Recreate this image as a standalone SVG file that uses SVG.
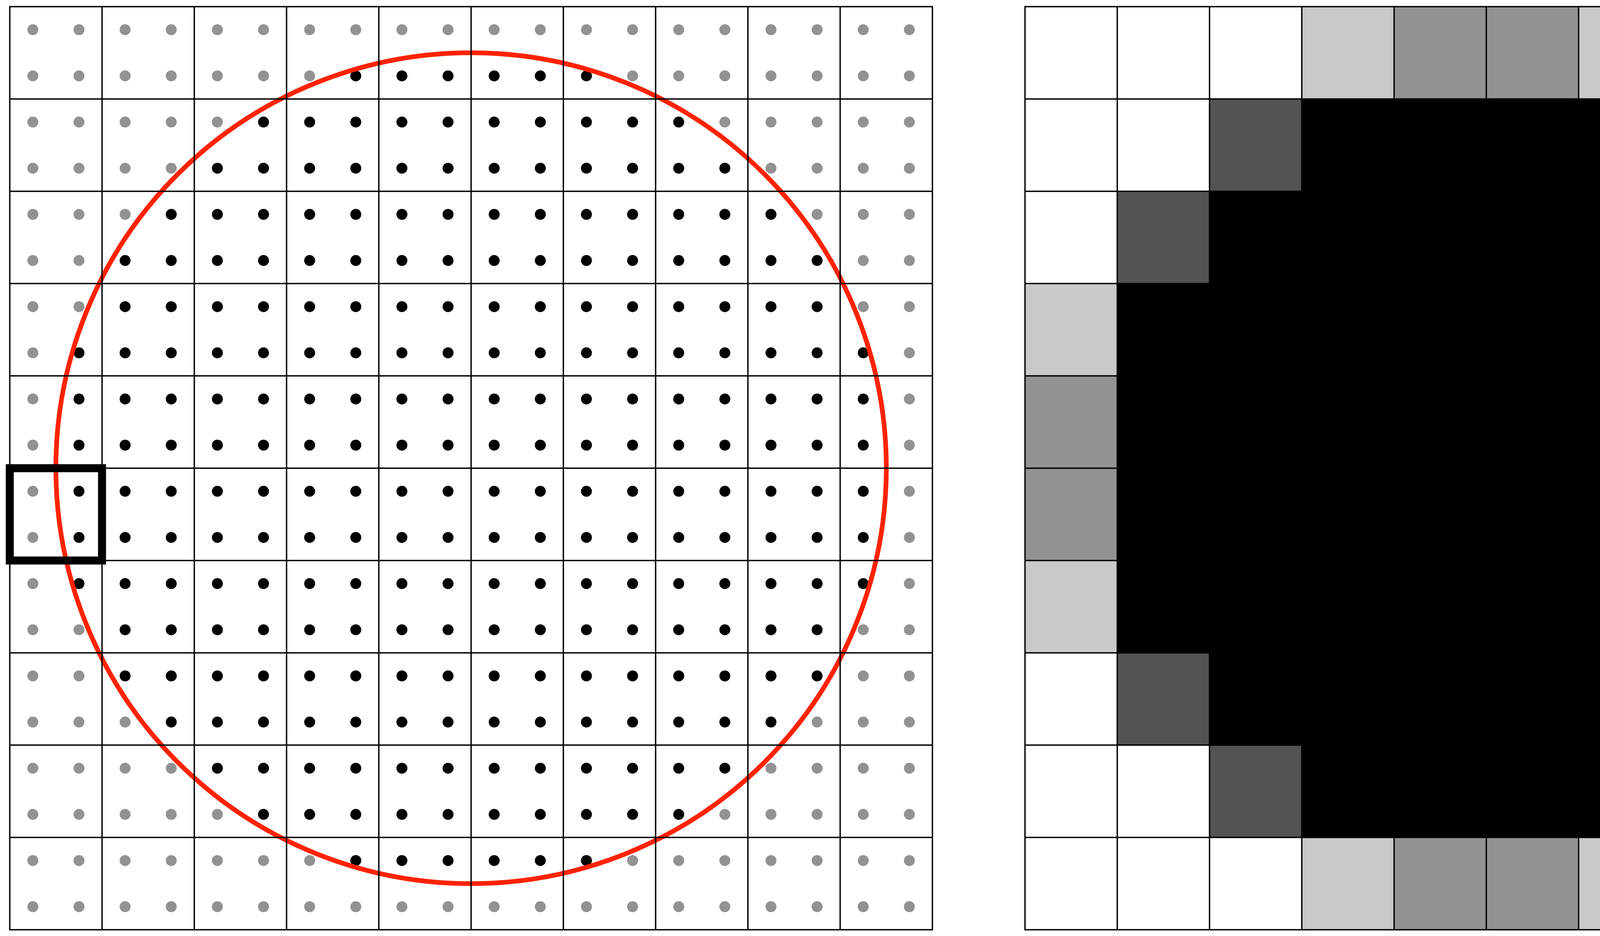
<svg xmlns="http://www.w3.org/2000/svg" width="5003" height="2395" viewBox="0 0 5003 2395">
<style>
.g{fill:#929292}
.b{fill:#000}
.grid{fill:none;stroke:#000;stroke-width:3.5}
.lt{fill:#c9c9c9}
.md{fill:#929292}
.dk{fill:#535353}
.bk{fill:#000}
</style>
<rect x="0" y="0" width="5003" height="2395" fill="#fff"/>
<g id="samples">
<g id="row-0" transform="translate(0,76)">
<circle class="g" cx="84.1" r="14"/><circle class="g" cx="202.2" r="14"/><circle class="g" cx="320.3" r="14"/><circle class="g" cx="438.4" r="14"/><circle class="g" cx="556.5" r="14"/><circle class="g" cx="674.6" r="14"/><circle class="g" cx="792.7" r="14"/><circle class="g" cx="910.8" r="14"/><circle class="g" cx="1028.9" r="14"/><circle class="g" cx="1147" r="14"/><circle class="g" cx="1265.1" r="14"/><circle class="g" cx="1383.2" r="14"/><circle class="g" cx="1501.3" r="14"/><circle class="g" cx="1619.4" r="14"/><circle class="g" cx="1737.5" r="14"/><circle class="g" cx="1855.6" r="14"/><circle class="g" cx="1973.7" r="14"/><circle class="g" cx="2091.8" r="14"/><circle class="g" cx="2209.9" r="14"/><circle class="g" cx="2328" r="14"/>
</g>
<g id="row-1" transform="translate(0,194.2)">
<circle class="g" cx="84.1" r="14"/><circle class="g" cx="202.2" r="14"/><circle class="g" cx="320.3" r="14"/><circle class="g" cx="438.4" r="14"/><circle class="g" cx="556.5" r="14"/><circle class="g" cx="674.6" r="14"/><circle class="g" cx="792.7" r="14"/><circle class="b" cx="910.8" r="14"/><circle class="b" cx="1028.9" r="14"/><circle class="b" cx="1147" r="14"/><circle class="b" cx="1265.1" r="14"/><circle class="b" cx="1383.2" r="14"/><circle class="b" cx="1501.3" r="14"/><circle class="g" cx="1619.4" r="14"/><circle class="g" cx="1737.5" r="14"/><circle class="g" cx="1855.6" r="14"/><circle class="g" cx="1973.7" r="14"/><circle class="g" cx="2091.8" r="14"/><circle class="g" cx="2209.9" r="14"/><circle class="g" cx="2328" r="14"/>
</g>
<g id="row-2" transform="translate(0,312.3)">
<circle class="g" cx="84.1" r="14"/><circle class="g" cx="202.2" r="14"/><circle class="g" cx="320.3" r="14"/><circle class="g" cx="438.4" r="14"/><circle class="g" cx="556.5" r="14"/><circle class="b" cx="674.6" r="14"/><circle class="b" cx="792.7" r="14"/><circle class="b" cx="910.8" r="14"/><circle class="b" cx="1028.9" r="14"/><circle class="b" cx="1147" r="14"/><circle class="b" cx="1265.1" r="14"/><circle class="b" cx="1383.2" r="14"/><circle class="b" cx="1501.3" r="14"/><circle class="b" cx="1619.4" r="14"/><circle class="b" cx="1737.5" r="14"/><circle class="g" cx="1855.6" r="14"/><circle class="g" cx="1973.7" r="14"/><circle class="g" cx="2091.8" r="14"/><circle class="g" cx="2209.9" r="14"/><circle class="g" cx="2328" r="14"/>
</g>
<g id="row-3" transform="translate(0,430.4)">
<circle class="g" cx="84.1" r="14"/><circle class="g" cx="202.2" r="14"/><circle class="g" cx="320.3" r="14"/><circle class="g" cx="438.4" r="14"/><circle class="b" cx="556.5" r="14"/><circle class="b" cx="674.6" r="14"/><circle class="b" cx="792.7" r="14"/><circle class="b" cx="910.8" r="14"/><circle class="b" cx="1028.9" r="14"/><circle class="b" cx="1147" r="14"/><circle class="b" cx="1265.1" r="14"/><circle class="b" cx="1383.2" r="14"/><circle class="b" cx="1501.3" r="14"/><circle class="b" cx="1619.4" r="14"/><circle class="b" cx="1737.5" r="14"/><circle class="b" cx="1855.6" r="14"/><circle class="g" cx="1973.7" r="14"/><circle class="g" cx="2091.8" r="14"/><circle class="g" cx="2209.9" r="14"/><circle class="g" cx="2328" r="14"/>
</g>
<g id="row-4" transform="translate(0,548.5)">
<circle class="g" cx="84.1" r="14"/><circle class="g" cx="202.2" r="14"/><circle class="g" cx="320.3" r="14"/><circle class="b" cx="438.4" r="14"/><circle class="b" cx="556.5" r="14"/><circle class="b" cx="674.6" r="14"/><circle class="b" cx="792.7" r="14"/><circle class="b" cx="910.8" r="14"/><circle class="b" cx="1028.9" r="14"/><circle class="b" cx="1147" r="14"/><circle class="b" cx="1265.1" r="14"/><circle class="b" cx="1383.2" r="14"/><circle class="b" cx="1501.3" r="14"/><circle class="b" cx="1619.4" r="14"/><circle class="b" cx="1737.5" r="14"/><circle class="b" cx="1855.6" r="14"/><circle class="b" cx="1973.7" r="14"/><circle class="g" cx="2091.8" r="14"/><circle class="g" cx="2209.9" r="14"/><circle class="g" cx="2328" r="14"/>
</g>
<g id="row-5" transform="translate(0,666.6)">
<circle class="g" cx="84.1" r="14"/><circle class="g" cx="202.2" r="14"/><circle class="b" cx="320.3" r="14"/><circle class="b" cx="438.4" r="14"/><circle class="b" cx="556.5" r="14"/><circle class="b" cx="674.6" r="14"/><circle class="b" cx="792.7" r="14"/><circle class="b" cx="910.8" r="14"/><circle class="b" cx="1028.9" r="14"/><circle class="b" cx="1147" r="14"/><circle class="b" cx="1265.1" r="14"/><circle class="b" cx="1383.2" r="14"/><circle class="b" cx="1501.3" r="14"/><circle class="b" cx="1619.4" r="14"/><circle class="b" cx="1737.5" r="14"/><circle class="b" cx="1855.6" r="14"/><circle class="b" cx="1973.7" r="14"/><circle class="b" cx="2091.8" r="14"/><circle class="g" cx="2209.9" r="14"/><circle class="g" cx="2328" r="14"/>
</g>
<g id="row-6" transform="translate(0,784.7)">
<circle class="g" cx="84.1" r="14"/><circle class="g" cx="202.2" r="14"/><circle class="b" cx="320.3" r="14"/><circle class="b" cx="438.4" r="14"/><circle class="b" cx="556.5" r="14"/><circle class="b" cx="674.6" r="14"/><circle class="b" cx="792.7" r="14"/><circle class="b" cx="910.8" r="14"/><circle class="b" cx="1028.9" r="14"/><circle class="b" cx="1147" r="14"/><circle class="b" cx="1265.1" r="14"/><circle class="b" cx="1383.2" r="14"/><circle class="b" cx="1501.3" r="14"/><circle class="b" cx="1619.4" r="14"/><circle class="b" cx="1737.5" r="14"/><circle class="b" cx="1855.6" r="14"/><circle class="b" cx="1973.7" r="14"/><circle class="b" cx="2091.8" r="14"/><circle class="g" cx="2209.9" r="14"/><circle class="g" cx="2328" r="14"/>
</g>
<g id="row-7" transform="translate(0,902.8)">
<circle class="g" cx="84.1" r="14"/><circle class="b" cx="202.2" r="14"/><circle class="b" cx="320.3" r="14"/><circle class="b" cx="438.4" r="14"/><circle class="b" cx="556.5" r="14"/><circle class="b" cx="674.6" r="14"/><circle class="b" cx="792.7" r="14"/><circle class="b" cx="910.8" r="14"/><circle class="b" cx="1028.9" r="14"/><circle class="b" cx="1147" r="14"/><circle class="b" cx="1265.1" r="14"/><circle class="b" cx="1383.2" r="14"/><circle class="b" cx="1501.3" r="14"/><circle class="b" cx="1619.4" r="14"/><circle class="b" cx="1737.5" r="14"/><circle class="b" cx="1855.6" r="14"/><circle class="b" cx="1973.7" r="14"/><circle class="b" cx="2091.8" r="14"/><circle class="b" cx="2209.9" r="14"/><circle class="g" cx="2328" r="14"/>
</g>
<g id="row-8" transform="translate(0,1020.9)">
<circle class="g" cx="84.1" r="14"/><circle class="b" cx="202.2" r="14"/><circle class="b" cx="320.3" r="14"/><circle class="b" cx="438.4" r="14"/><circle class="b" cx="556.5" r="14"/><circle class="b" cx="674.6" r="14"/><circle class="b" cx="792.7" r="14"/><circle class="b" cx="910.8" r="14"/><circle class="b" cx="1028.9" r="14"/><circle class="b" cx="1147" r="14"/><circle class="b" cx="1265.1" r="14"/><circle class="b" cx="1383.2" r="14"/><circle class="b" cx="1501.3" r="14"/><circle class="b" cx="1619.4" r="14"/><circle class="b" cx="1737.5" r="14"/><circle class="b" cx="1855.6" r="14"/><circle class="b" cx="1973.7" r="14"/><circle class="b" cx="2091.8" r="14"/><circle class="b" cx="2209.9" r="14"/><circle class="g" cx="2328" r="14"/>
</g>
<g id="row-9" transform="translate(0,1139)">
<circle class="g" cx="84.1" r="14"/><circle class="b" cx="202.2" r="14"/><circle class="b" cx="320.3" r="14"/><circle class="b" cx="438.4" r="14"/><circle class="b" cx="556.5" r="14"/><circle class="b" cx="674.6" r="14"/><circle class="b" cx="792.7" r="14"/><circle class="b" cx="910.8" r="14"/><circle class="b" cx="1028.9" r="14"/><circle class="b" cx="1147" r="14"/><circle class="b" cx="1265.1" r="14"/><circle class="b" cx="1383.2" r="14"/><circle class="b" cx="1501.3" r="14"/><circle class="b" cx="1619.4" r="14"/><circle class="b" cx="1737.5" r="14"/><circle class="b" cx="1855.6" r="14"/><circle class="b" cx="1973.7" r="14"/><circle class="b" cx="2091.8" r="14"/><circle class="b" cx="2209.9" r="14"/><circle class="g" cx="2328" r="14"/>
</g>
<g id="row-10" transform="translate(0,1257.1)">
<circle class="g" cx="84.1" r="14"/><circle class="b" cx="202.2" r="14"/><circle class="b" cx="320.3" r="14"/><circle class="b" cx="438.4" r="14"/><circle class="b" cx="556.5" r="14"/><circle class="b" cx="674.6" r="14"/><circle class="b" cx="792.7" r="14"/><circle class="b" cx="910.8" r="14"/><circle class="b" cx="1028.9" r="14"/><circle class="b" cx="1147" r="14"/><circle class="b" cx="1265.1" r="14"/><circle class="b" cx="1383.2" r="14"/><circle class="b" cx="1501.3" r="14"/><circle class="b" cx="1619.4" r="14"/><circle class="b" cx="1737.5" r="14"/><circle class="b" cx="1855.6" r="14"/><circle class="b" cx="1973.7" r="14"/><circle class="b" cx="2091.8" r="14"/><circle class="b" cx="2209.9" r="14"/><circle class="g" cx="2328" r="14"/>
</g>
<g id="row-11" transform="translate(0,1375.2)">
<circle class="g" cx="84.1" r="14"/><circle class="b" cx="202.2" r="14"/><circle class="b" cx="320.3" r="14"/><circle class="b" cx="438.4" r="14"/><circle class="b" cx="556.5" r="14"/><circle class="b" cx="674.6" r="14"/><circle class="b" cx="792.7" r="14"/><circle class="b" cx="910.8" r="14"/><circle class="b" cx="1028.9" r="14"/><circle class="b" cx="1147" r="14"/><circle class="b" cx="1265.1" r="14"/><circle class="b" cx="1383.2" r="14"/><circle class="b" cx="1501.3" r="14"/><circle class="b" cx="1619.4" r="14"/><circle class="b" cx="1737.5" r="14"/><circle class="b" cx="1855.6" r="14"/><circle class="b" cx="1973.7" r="14"/><circle class="b" cx="2091.8" r="14"/><circle class="b" cx="2209.9" r="14"/><circle class="g" cx="2328" r="14"/>
</g>
<g id="row-12" transform="translate(0,1493.3)">
<circle class="g" cx="84.1" r="14"/><circle class="b" cx="202.2" r="14"/><circle class="b" cx="320.3" r="14"/><circle class="b" cx="438.4" r="14"/><circle class="b" cx="556.5" r="14"/><circle class="b" cx="674.6" r="14"/><circle class="b" cx="792.7" r="14"/><circle class="b" cx="910.8" r="14"/><circle class="b" cx="1028.9" r="14"/><circle class="b" cx="1147" r="14"/><circle class="b" cx="1265.1" r="14"/><circle class="b" cx="1383.2" r="14"/><circle class="b" cx="1501.3" r="14"/><circle class="b" cx="1619.4" r="14"/><circle class="b" cx="1737.5" r="14"/><circle class="b" cx="1855.6" r="14"/><circle class="b" cx="1973.7" r="14"/><circle class="b" cx="2091.8" r="14"/><circle class="b" cx="2209.9" r="14"/><circle class="g" cx="2328" r="14"/>
</g>
<g id="row-13" transform="translate(0,1611.4)">
<circle class="g" cx="84.1" r="14"/><circle class="g" cx="202.2" r="14"/><circle class="b" cx="320.3" r="14"/><circle class="b" cx="438.4" r="14"/><circle class="b" cx="556.5" r="14"/><circle class="b" cx="674.6" r="14"/><circle class="b" cx="792.7" r="14"/><circle class="b" cx="910.8" r="14"/><circle class="b" cx="1028.9" r="14"/><circle class="b" cx="1147" r="14"/><circle class="b" cx="1265.1" r="14"/><circle class="b" cx="1383.2" r="14"/><circle class="b" cx="1501.3" r="14"/><circle class="b" cx="1619.4" r="14"/><circle class="b" cx="1737.5" r="14"/><circle class="b" cx="1855.6" r="14"/><circle class="b" cx="1973.7" r="14"/><circle class="b" cx="2091.8" r="14"/><circle class="g" cx="2209.9" r="14"/><circle class="g" cx="2328" r="14"/>
</g>
<g id="row-14" transform="translate(0,1729.5)">
<circle class="g" cx="84.1" r="14"/><circle class="g" cx="202.2" r="14"/><circle class="b" cx="320.3" r="14"/><circle class="b" cx="438.4" r="14"/><circle class="b" cx="556.5" r="14"/><circle class="b" cx="674.6" r="14"/><circle class="b" cx="792.7" r="14"/><circle class="b" cx="910.8" r="14"/><circle class="b" cx="1028.9" r="14"/><circle class="b" cx="1147" r="14"/><circle class="b" cx="1265.1" r="14"/><circle class="b" cx="1383.2" r="14"/><circle class="b" cx="1501.3" r="14"/><circle class="b" cx="1619.4" r="14"/><circle class="b" cx="1737.5" r="14"/><circle class="b" cx="1855.6" r="14"/><circle class="b" cx="1973.7" r="14"/><circle class="b" cx="2091.8" r="14"/><circle class="g" cx="2209.9" r="14"/><circle class="g" cx="2328" r="14"/>
</g>
<g id="row-15" transform="translate(0,1847.6)">
<circle class="g" cx="84.1" r="14"/><circle class="g" cx="202.2" r="14"/><circle class="g" cx="320.3" r="14"/><circle class="b" cx="438.4" r="14"/><circle class="b" cx="556.5" r="14"/><circle class="b" cx="674.6" r="14"/><circle class="b" cx="792.7" r="14"/><circle class="b" cx="910.8" r="14"/><circle class="b" cx="1028.9" r="14"/><circle class="b" cx="1147" r="14"/><circle class="b" cx="1265.1" r="14"/><circle class="b" cx="1383.2" r="14"/><circle class="b" cx="1501.3" r="14"/><circle class="b" cx="1619.4" r="14"/><circle class="b" cx="1737.5" r="14"/><circle class="b" cx="1855.6" r="14"/><circle class="b" cx="1973.7" r="14"/><circle class="g" cx="2091.8" r="14"/><circle class="g" cx="2209.9" r="14"/><circle class="g" cx="2328" r="14"/>
</g>
<g id="row-16" transform="translate(0,1965.7)">
<circle class="g" cx="84.1" r="14"/><circle class="g" cx="202.2" r="14"/><circle class="g" cx="320.3" r="14"/><circle class="g" cx="438.4" r="14"/><circle class="b" cx="556.5" r="14"/><circle class="b" cx="674.6" r="14"/><circle class="b" cx="792.7" r="14"/><circle class="b" cx="910.8" r="14"/><circle class="b" cx="1028.9" r="14"/><circle class="b" cx="1147" r="14"/><circle class="b" cx="1265.1" r="14"/><circle class="b" cx="1383.2" r="14"/><circle class="b" cx="1501.3" r="14"/><circle class="b" cx="1619.4" r="14"/><circle class="b" cx="1737.5" r="14"/><circle class="b" cx="1855.6" r="14"/><circle class="g" cx="1973.7" r="14"/><circle class="g" cx="2091.8" r="14"/><circle class="g" cx="2209.9" r="14"/><circle class="g" cx="2328" r="14"/>
</g>
<g id="row-17" transform="translate(0,2083.8)">
<circle class="g" cx="84.1" r="14"/><circle class="g" cx="202.2" r="14"/><circle class="g" cx="320.3" r="14"/><circle class="g" cx="438.4" r="14"/><circle class="g" cx="556.5" r="14"/><circle class="b" cx="674.6" r="14"/><circle class="b" cx="792.7" r="14"/><circle class="b" cx="910.8" r="14"/><circle class="b" cx="1028.9" r="14"/><circle class="b" cx="1147" r="14"/><circle class="b" cx="1265.1" r="14"/><circle class="b" cx="1383.2" r="14"/><circle class="b" cx="1501.3" r="14"/><circle class="b" cx="1619.4" r="14"/><circle class="b" cx="1737.5" r="14"/><circle class="g" cx="1855.6" r="14"/><circle class="g" cx="1973.7" r="14"/><circle class="g" cx="2091.8" r="14"/><circle class="g" cx="2209.9" r="14"/><circle class="g" cx="2328" r="14"/>
</g>
<g id="row-18" transform="translate(0,2201.9)">
<circle class="g" cx="84.1" r="14"/><circle class="g" cx="202.2" r="14"/><circle class="g" cx="320.3" r="14"/><circle class="g" cx="438.4" r="14"/><circle class="g" cx="556.5" r="14"/><circle class="g" cx="674.6" r="14"/><circle class="g" cx="792.7" r="14"/><circle class="b" cx="910.8" r="14"/><circle class="b" cx="1028.9" r="14"/><circle class="b" cx="1147" r="14"/><circle class="b" cx="1265.1" r="14"/><circle class="b" cx="1383.2" r="14"/><circle class="b" cx="1501.3" r="14"/><circle class="g" cx="1619.4" r="14"/><circle class="g" cx="1737.5" r="14"/><circle class="g" cx="1855.6" r="14"/><circle class="g" cx="1973.7" r="14"/><circle class="g" cx="2091.8" r="14"/><circle class="g" cx="2209.9" r="14"/><circle class="g" cx="2328" r="14"/>
</g>
<g id="row-19" transform="translate(0,2320)">
<circle class="g" cx="84.1" r="14"/><circle class="g" cx="202.2" r="14"/><circle class="g" cx="320.3" r="14"/><circle class="g" cx="438.4" r="14"/><circle class="g" cx="556.5" r="14"/><circle class="g" cx="674.6" r="14"/><circle class="g" cx="792.7" r="14"/><circle class="g" cx="910.8" r="14"/><circle class="g" cx="1028.9" r="14"/><circle class="g" cx="1147" r="14"/><circle class="g" cx="1265.1" r="14"/><circle class="g" cx="1383.2" r="14"/><circle class="g" cx="1501.3" r="14"/><circle class="g" cx="1619.4" r="14"/><circle class="g" cx="1737.5" r="14"/><circle class="g" cx="1855.6" r="14"/><circle class="g" cx="1973.7" r="14"/><circle class="g" cx="2091.8" r="14"/><circle class="g" cx="2209.9" r="14"/><circle class="g" cx="2328" r="14"/>
</g>
</g>
<g id="circle">
<circle cx="1206" cy="1198" r="1063" fill="none" stroke="#ff2200" stroke-width="12"/>
</g>
<g id="left-grid">
<path class="grid" d="M261.2 17V2379M497.4 17V2379M733.6 17V2379M969.8 17V2379M1206 17V2379M1442.2 17V2379M1678.4 17V2379M1914.6 17V2379M2150.8 17V2379M25 253.2H2387M25 489.4H2387M25 725.6H2387M25 961.8H2387M25 1198H2387M25 1434.2H2387M25 1670.4H2387M25 1906.6H2387M25 2142.8H2387"/>
<rect class="grid" x="25" y="17" width="2362" height="2362" stroke-width="4"/>
</g>
<g id="highlight-cell">
<rect x="25" y="1198" width="236.2" height="236.2" fill="none" stroke="#000" stroke-width="20.5"/>
</g>
<g id="coverage">
<rect class="bk" x="3332.6" y="253.2" width="944.8" height="1889.6"/>
<rect class="bk" x="3096.4" y="489.4" width="1417.2" height="1417.2"/>
<rect class="bk" x="2860.2" y="725.6" width="1889.6" height="944.8"/>
<rect class="lt" x="3332.6" y="17" width="236.2" height="236.2"/>
<rect class="md" x="3568.8" y="17" width="236.2" height="236.2"/>
<rect class="md" x="3805" y="17" width="236.2" height="236.2"/>
<rect class="lt" x="4041.2" y="17" width="236.2" height="236.2"/>
<rect class="lt" x="3332.6" y="2142.8" width="236.2" height="236.2"/>
<rect class="md" x="3568.8" y="2142.8" width="236.2" height="236.2"/>
<rect class="md" x="3805" y="2142.8" width="236.2" height="236.2"/>
<rect class="lt" x="4041.2" y="2142.8" width="236.2" height="236.2"/>
<rect class="lt" x="2624" y="725.6" width="236.2" height="236.2"/>
<rect class="md" x="2624" y="961.8" width="236.2" height="236.2"/>
<rect class="md" x="2624" y="1198" width="236.2" height="236.2"/>
<rect class="lt" x="2624" y="1434.2" width="236.2" height="236.2"/>
<rect class="lt" x="4749.8" y="725.6" width="236.2" height="236.2"/>
<rect class="md" x="4749.8" y="961.8" width="236.2" height="236.2"/>
<rect class="md" x="4749.8" y="1198" width="236.2" height="236.2"/>
<rect class="lt" x="4749.8" y="1434.2" width="236.2" height="236.2"/>
<rect class="dk" x="3096.4" y="253.2" width="236.2" height="236.2"/>
<rect class="dk" x="4277.4" y="253.2" width="236.2" height="236.2"/>
<rect class="dk" x="2860.2" y="489.4" width="236.2" height="236.2"/>
<rect class="dk" x="4513.6" y="489.4" width="236.2" height="236.2"/>
<rect class="dk" x="2860.2" y="1670.4" width="236.2" height="236.2"/>
<rect class="dk" x="4513.6" y="1670.4" width="236.2" height="236.2"/>
<rect class="dk" x="3096.4" y="1906.6" width="236.2" height="236.2"/>
<rect class="dk" x="4277.4" y="1906.6" width="236.2" height="236.2"/>
</g>
<g id="right-grid">
<path class="grid" d="M2860.2 17V2379M3096.4 17V2379M3332.6 17V2379M3568.8 17V2379M3805 17V2379M4041.2 17V2379M4277.4 17V2379M4513.6 17V2379M4749.8 17V2379M2624 253.2H4986M2624 489.4H4986M2624 725.6H4986M2624 961.8H4986M2624 1198H4986M2624 1434.2H4986M2624 1670.4H4986M2624 1906.6H4986M2624 2142.8H4986"/>
<rect class="grid" x="2624" y="17" width="2362" height="2362" stroke-width="4"/>
</g>
</svg>
